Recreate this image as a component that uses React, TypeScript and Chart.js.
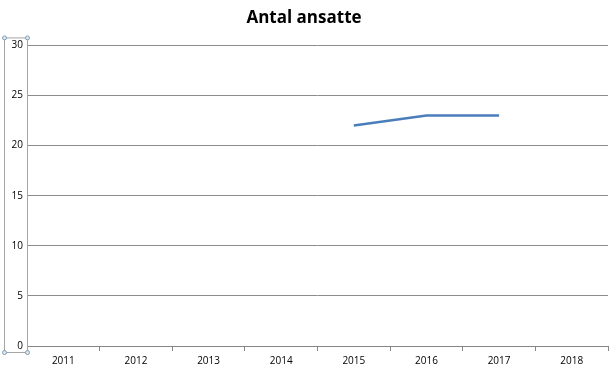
import React, { useEffect, useRef } from "react";
import { Chart, registerables } from "chart.js";

Chart.register(...registerables);

const categories = ["2011", "2012", "2013", "2014", "2015", "2016", "2017", "2018"];
const employees: (number | null)[] = [null, null, null, null, 22, 23, 23, null];
const titleText = "Antal ansatte";

const selectionBox = {
  id: "selectionBox",
  afterDraw(chart: any) {
    const { ctx, chartArea } = chart;
    const x0 = 4;
    const x1 = chartArea.left;
    const y0 = chartArea.top - 8;
    const y1 = chartArea.bottom + 6;
    ctx.save();
    ctx.strokeStyle = "#a6a6a6";
    ctx.lineWidth = 1;
    ctx.strokeRect(x0 + 0.5, y0 + 0.5, x1 - x0, y1 - y0);
    const pts = [
      [x0 + 0.5, y0 + 0.5],
      [x1 + 0.5, y0 + 0.5],
      [x0 + 0.5, y1 + 0.5],
      [x1 + 0.5, y1 + 0.5],
    ];
    for (const [px, py] of pts) {
      ctx.beginPath();
      ctx.arc(px, py, 2, 0, Math.PI * 2);
      ctx.fillStyle = "#dfe8f0";
      ctx.fill();
      ctx.strokeStyle = "#7f9db9";
      ctx.stroke();
    }
    ctx.restore();
  },
};

export default function App() {
  const ref = useRef<HTMLCanvasElement>(null);
  useEffect(() => {
    if (!ref.current) return;
    const chart = new Chart(ref.current, {
      type: "line",
      data: {
        labels: categories,
        datasets: [
          {
            data: employees,
            borderColor: "#4a7ebb",
            borderWidth: 2.5,
            pointRadius: 0,
            fill: false,
            tension: 0,
            spanGaps: false,
          },
        ],
      },
      options: {
        animation: false,
        responsive: false,
        layout: { padding: { left: 0, right: 8, top: 0, bottom: 0 } },
        plugins: {
          legend: { display: false },
          tooltip: { enabled: false },
          title: {
            display: true,
            text: titleText,
            color: "#000000",
            font: { family: "'Open Sans', 'Liberation Sans', sans-serif", size: 17, weight: "bold" },
            padding: { top: 8, bottom: 17 },
          },
        },
        scales: {
          x: {
            offset: true,
            grid: {
              offset: true,
              drawOnChartArea: false,
              drawTicks: true,
              tickLength: 5,
              color: "#868686",
            },
            border: { color: "#868686" },
            ticks: {
              color: "#000000",
              font: { family: "'Open Sans', 'Liberation Sans', sans-serif", size: 10 },
              padding: 4,
              maxRotation: 0,
            },
            afterFit: (scale: any) => {
              scale.height = 20;
            },
          },
          y: {
            min: 0,
            max: 30,
            ticks: {
              stepSize: 5,
              color: "#000000",
              font: { family: "'Open Sans', 'Liberation Sans', sans-serif", size: 10 },
              padding: 4,
            },
            grid: { color: "#8c8c8c", drawTicks: false },
            border: { display: false },
            afterFit: (scale: any) => {
              scale.width = 27;
            },
          },
        },
      },
      plugins: [selectionBox],
    });
    return () => chart.destroy();
  }, []);
  return (
    <div style={{ position: "absolute", left: 0, top: 0, width: 616, height: 366, background: "#ffffff" }}>
      <canvas ref={ref} width={616} height={366} />
    </div>
  );
}
